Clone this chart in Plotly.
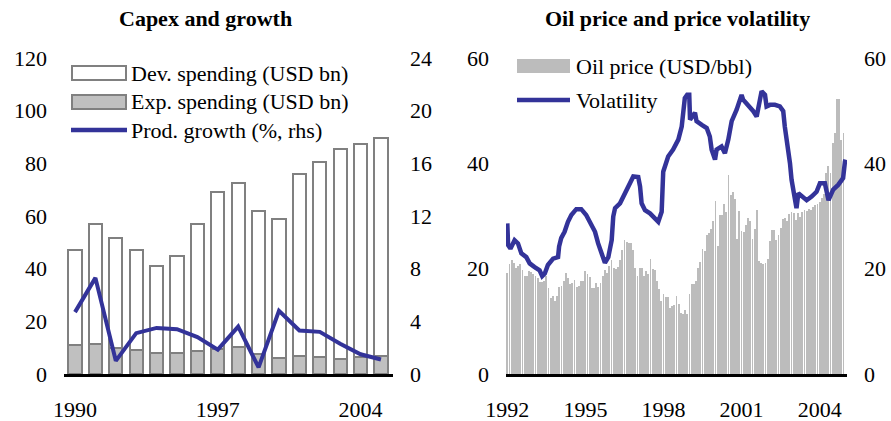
import plotly.graph_objects as go
from plotly.subplots import make_subplots

# ---- left panel: capex and growth (annual)
years = list(range(1990, 2006))
total_spending = [47, 57, 51.5, 47, 41, 45, 57, 69, 72.5, 62, 59, 76, 80.5, 85.5, 87.5, 89.5]
exp_spending = [10.9, 11.5, 10.0, 9.0, 8.1, 8.0, 8.8, 9.6, 10.3, 7.7, 6.2, 6.7, 6.5, 5.8, 6.5, 6.8]
dev_spending = [round(t - e, 1) for t, e in zip(total_spending, exp_spending)]
prod_growth = [4.7, 7.3, 1.0, 3.1, 3.5, 3.4, 2.8, 1.85, 3.6, 0.5, 4.8, 3.3, 3.2, 2.3, 1.5, 1.1]

# ---- right panel: oil price (monthly, Jan 1992 - Dec 2004) and volatility
oil_price = [
    19.2, 20.8, 21.6, 21.1, 20.1, 20.6, 20.8, 19.7, 18.7, 18.7, 19.6, 19.4,
    19.0, 18.7, 18.3, 17.5, 17.5, 17.7, 18.6, 16.3, 14.4, 14.9, 13.8, 14.8,
    16.5, 16.8, 17.7, 19.2, 18.3, 17.0, 17.3, 17.9, 16.6, 16.8, 17.6, 17.6,
    19.5, 19.0, 18.4, 16.3, 16.3, 17.3, 16.6, 17.3, 18.7, 19.7, 19.2, 20.6,
    21.6, 20.1, 19.9, 20.4, 21.6, 23.6, 25.4, 25.1, 24.8, 24.9, 23.5, 20.2,
    18.7, 20.1, 20.1, 18.7, 19.5, 18.9, 21.9, 20.0, 19.8, 17.7, 16.2, 13.8,
    15.1, 14.7, 14.6, 12.5, 13.0, 13.1, 14.9, 13.2, 11.6, 11.3, 12.1, 11.3,
    15.1, 17.0, 17.0, 17.6, 20.1, 21.2, 23.7, 23.3, 26.3, 26.7, 27.5, 29.0,
    32.8, 24.3, 30.2, 30.2, 32.3, 30.8, 37.8, 34.0, 34.5, 33.3, 25.7, 31.0,
    27.1, 26.9, 28.3, 29.7, 29.0, 25.7, 27.6, 31.1, 21.4, 21.0, 20.8, 21.0,
    21.9, 25.3, 27.3, 27.3, 25.4, 26.4, 27.7, 29.4, 29.7, 29.1, 30.3, 30.8,
    30.6, 29.2, 30.5, 29.9, 30.8, 31.1, 31.0, 31.3, 31.1, 31.7, 32.1, 32.3,
    32.7, 33.4, 34.2, 38.1, 39.4, 38.1, 43.8, 45.7, 52.2, 52.2, 44.5, 45.7,
]
oil_x = [1992 + i / 12 for i in range(len(oil_price))]

vol_x = [1992.00, 1992.03, 1992.12, 1992.28, 1992.41, 1992.54, 1992.73, 1992.86,
         1993.05, 1993.24, 1993.34, 1993.44, 1993.56, 1993.76, 1993.95, 1993.99,
         1994.07, 1994.20, 1994.33, 1994.46, 1994.65, 1994.84, 1995.03, 1995.23,
         1995.37, 1995.49, 1995.63, 1995.75, 1995.88, 1996.01, 1996.07, 1996.14,
         1996.33, 1996.52, 1996.71, 1996.84, 1997.03, 1997.10, 1997.16, 1997.29,
         1997.48, 1997.67, 1997.80, 1997.93, 1997.99, 1998.18, 1998.37, 1998.57,
         1998.70, 1998.82, 1998.91, 1998.99, 1999.02, 1999.21, 1999.27, 1999.47,
         1999.66, 1999.78, 1999.85, 1999.98, 2000.04, 2000.23, 2000.36, 2000.49,
         2000.62, 2000.81, 2001.00, 2001.06, 2001.25, 2001.45, 2001.58, 2001.64,
         2001.77, 2001.90, 2001.96, 2002.09, 2002.28, 2002.47, 2002.60, 2002.66,
         2002.79, 2002.86, 2002.92, 2003.05, 2003.11, 2003.18, 2003.31, 2003.50,
         2003.69, 2003.88, 2004.01, 2004.20, 2004.34, 2004.52, 2004.71, 2004.90,
         2004.97, 2004.99]
vol_y = [28.6, 24.5, 23.8, 25.4, 24.8, 22.9, 22.2, 21.0,
         20.3, 19.7, 18.6, 19.1, 20.7, 21.9, 22.2, 24.2,
         25.8, 27.0, 28.9, 30.2, 31.3, 31.3, 30.2, 28.3,
         27.0, 24.8, 22.9, 21.1, 22.2, 25.4, 29.9, 31.5,
         32.4, 34.3, 36.5, 37.5, 37.4, 35.6, 32.4, 31.1,
         30.5, 29.6, 28.9, 30.8, 38.4, 41.3, 42.6, 44.5,
         47.0, 52.4, 53.0, 53.0, 48.3, 49.6, 48.0, 47.3,
         46.7, 45.1, 42.6, 40.7, 42.6, 43.2, 41.9, 44.5,
         48.0, 50.2, 53.0, 52.1, 51.1, 49.9, 48.9, 50.8,
         53.7, 53.0, 50.8, 51.1, 51.1, 50.8, 49.9, 47.0,
         43.2, 40.0, 36.9, 33.7, 31.5, 34.3, 33.7, 33.0,
         33.7, 34.6, 36.2, 36.2, 33.0, 35.0, 35.9, 37.2,
         40.3, 40.7]

W, H = 891, 421
FONT = "Liberation Serif"
BLUE = "#333399"
GREY_FILL = "#c0c0c0"
GREY_LINE = "#808080"
BAR_GREY = "#bcbcbc"

fig = make_subplots(rows=1, cols=2, specs=[[{"secondary_y": True}, {"secondary_y": True}]])

fig.add_trace(go.Bar(x=years, y=exp_spending, name="Exp. spending (USD bn)", width=0.65,
                     marker=dict(color=GREY_FILL, line=dict(color=GREY_LINE, width=2))),
              row=1, col=1, secondary_y=False)
fig.add_trace(go.Bar(x=years, y=dev_spending, name="Dev. spending (USD bn)", width=0.65,
                     marker=dict(color="white", line=dict(color=GREY_LINE, width=2))),
              row=1, col=1, secondary_y=False)
fig.add_trace(go.Scatter(x=years, y=prod_growth, name="Prod. growth (%, rhs)", mode="lines",
                         line=dict(color=BLUE, width=4)),
              row=1, col=1, secondary_y=True)

fig.add_trace(go.Bar(x=oil_x, y=oil_price, name="Oil price (USD/bbl)", width=0.032,
                     marker=dict(color=BAR_GREY, line=dict(width=0))),
              row=1, col=2, secondary_y=False)
fig.add_trace(go.Scatter(x=vol_x, y=vol_y, name="Volatility", mode="lines",
                         line=dict(color=BLUE, width=4.5)),
              row=1, col=2, secondary_y=True)

tickfont = dict(family=FONT, size=22, color="black")
MT, MB = 58, 47
PH = H - MT - MB


def px(x):
    # page pixel -> paper fraction
    return x / W


def py(y):
    return (H - MB - y) / PH


xcommon = dict(showline=True, linecolor="black", linewidth=2.5, ticks="", showgrid=False,
               tickfont=tickfont, ticklabelstandoff=14, zeroline=False, automargin=False)
ycommon = dict(showgrid=False, zeroline=False, tickfont=tickfont, ticklabelstandoff=16,
               automargin=False, ticks="")

fig.update_layout(
    width=W, height=H, barmode="stack", showlegend=False, bargap=0,
    plot_bgcolor="white", paper_bgcolor="white",
    margin=dict(l=0, r=0, t=MT, b=MB),
    xaxis=dict(domain=[px(64), px(393)], range=[1989.46, 2005.59],
               tickvals=[1990, 1997, 2004], **xcommon),
    yaxis=dict(range=[0, 120], tickvals=[0, 20, 40, 60, 80, 100, 120], **ycommon),
    yaxis2=dict(range=[0, 24], tickvals=[0, 4, 8, 12, 16, 20, 24], **ycommon),
    xaxis2=dict(domain=[px(506), px(847)], range=[1991.95, 2005.05],
                tickvals=[1992, 1995, 1998, 2001, 2004], **xcommon),
    yaxis3=dict(range=[0, 60], tickvals=[0, 20, 40, 60], **ycommon),
    yaxis4=dict(range=[0, 60], tickvals=[0, 20, 40, 60], **ycommon),
)

# titles
title_font = dict(family=FONT, size=22, color="black")
fig.add_annotation(text="<b>Capex and growth</b>", x=px(205), y=py(18), yref="paper", xref="paper",
                   xanchor="center", yanchor="middle", showarrow=False, font=title_font)
fig.add_annotation(text="<b>Oil price and price volatility</b>", x=px(677), y=py(18), yref="paper",
                   xref="paper", xanchor="center", yanchor="middle", showarrow=False,
                   font=title_font)

# hand-drawn legends
leg_font = dict(family=FONT, size=22, color="black")
shapes = []


def legend_rect(x0, x1, yc, fill, line):
    shapes.append(dict(type="rect", xref="paper", yref="paper", x0=px(x0), x1=px(x1),
                       y0=py(yc - 7), y1=py(yc + 7), fillcolor=fill,
                       line=dict(color=line, width=2 if line else 0)))


def legend_line(x0, x1, yc):
    shapes.append(dict(type="line", xref="paper", yref="paper", x0=px(x0), x1=px(x1),
                       y0=py(yc), y1=py(yc), line=dict(color=BLUE, width=4.5)))


def legend_text(x, yc, text):
    fig.add_annotation(text=text, x=px(x), y=py(yc), xref="paper", yref="paper",
                       xanchor="left", yanchor="middle", showarrow=False, font=leg_font)


legend_rect(72, 126, 73, "white", GREY_LINE)
legend_text(129, 73, "Dev. spending (USD bn)")
legend_rect(72, 126, 102, GREY_FILL, GREY_LINE)
legend_text(129, 102, "Exp. spending (USD bn)")
legend_line(71, 127, 130)
legend_text(129, 130, "Prod. growth (%, rhs)")

legend_rect(517, 570, 66, BAR_GREY, None)
legend_text(574, 66, "Oil price (USD/bbl)")
legend_line(517, 570, 100)
legend_text(574, 100, "Volatility")

fig.update_layout(shapes=shapes)

# drop the browser's default 8px body margin so the figure fills the window
fig.write_html("out.html", config={"displayModeBar": False},
               post_script="document.body.style.margin='0';document.body.style.overflow='hidden';")
